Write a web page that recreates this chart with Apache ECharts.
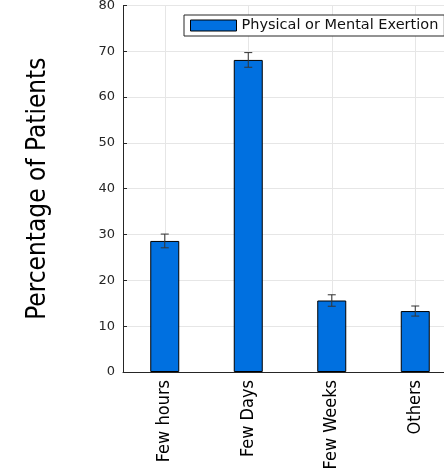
<!DOCTYPE html>
<html>
<head>
<meta charset="utf-8">
<title>Percentage of Patients</title>
<script src="https://cdn.jsdelivr.net/npm/echarts@6/dist/echarts.min.js"></script>
<style>
  html, body { margin: 0; padding: 0; background: #ffffff; }
  #chart { width: 444px; height: 470px; }
</style>
</head>
<body>
<div id="chart"></div>
<script>
// Duration categories and the share of patients in each
const categories = ['Few hours', 'Few Days', 'Few Weeks', 'Others'];
const seriesName = 'Physical or Mental Exertion';
const values = [28.6, 68.1, 15.6, 13.3];
// Half-width of the error bar for each category
const errors = [1.5, 1.6, 1.25, 1.1];
const yTicks = [0, 10, 20, 30, 40, 50, 60, 70, 80];

const chart = echarts.init(document.getElementById('chart'), null, { renderer: 'canvas' });

const axisColor = '#262626';
const gridColor = '#e6e6e6';
const narrowFont = "'DejaVu Sans Condensed', 'Liberation Sans Narrow', 'Roboto Condensed', sans-serif";

const option = {
  animation: false,
  backgroundColor: '#ffffff',
  // plot area runs a little past the right edge of the canvas
  grid: {
    left: 123, width: 334, top: 5.4, bottom: 98,
    containLabel: false, outerBoundsMode: 'none'
  },
  legend: {
    data: [seriesName],
    left: 184,
    top: 15,
    orient: 'horizontal',
    backgroundColor: '#ffffff',
    borderColor: axisColor,
    borderWidth: 1,
    borderRadius: 0,
    padding: [3, 6, 3, 6],
    itemWidth: 46,
    itemHeight: 11,
    itemGap: 5,
    icon: 'rect',
    itemStyle: { color: '#0070e0', borderColor: '#000000', borderWidth: 1 },
    textStyle: { fontFamily: 'DejaVu Sans', fontSize: 14.5, color: '#111111', lineHeight: 11 }
  },
  xAxis: {
    type: 'category',
    data: categories,
    boundaryGap: true,
    axisLine: { show: true, lineStyle: { color: axisColor, width: 1 } },
    axisTick: { show: true, inside: true, length: 4, alignWithLabel: true, lineStyle: { color: axisColor } },
    splitLine: { show: true, alignWithLabel: true, lineStyle: { color: gridColor, width: 1 } },
    axisLabel: {
      rotate: 90,
      margin: 8,
      fontFamily: narrowFont,
      fontSize: 18,
      color: '#000000'
    }
  },
  yAxis: {
    type: 'value',
    min: yTicks[0],
    max: yTicks[yTicks.length - 1],
    interval: yTicks[1] - yTicks[0],
    name: 'Percentage of Patients',
    nameLocation: 'middle',
    nameRotate: 90,
    nameGap: 72,
    nameTextStyle: { fontFamily: narrowFont, fontSize: 26, color: '#000000' },
    axisLine: { show: true, lineStyle: { color: axisColor, width: 1 } },
    axisTick: { show: true, inside: true, length: 4, lineStyle: { color: axisColor } },
    splitLine: { show: true, lineStyle: { color: gridColor, width: 1 } },
    axisLabel: {
      margin: 8,
      fontFamily: 'DejaVu Sans',
      fontSize: 13,
      color: axisColor
    }
  },
  series: [
    {
      name: seriesName,
      type: 'bar',
      data: values,
      barWidth: 29,
      itemStyle: { color: '#0070e0', borderColor: '#000000', borderWidth: 1 },
      z: 2
    },
    {
      name: 'error',
      type: 'custom',
      z: 3,
      data: values.map((v, i) => [i, v - errors[i], v + errors[i]]),
      renderItem: function (params, api) {
        const x = api.value(0);
        const low = api.coord([x, api.value(1)]);
        const high = api.coord([x, api.value(2)]);
        const cap = 4;
        const style = { stroke: '#333333', lineWidth: 1 };
        return {
          type: 'group',
          children: [
            { type: 'line', shape: { x1: high[0], y1: high[1], x2: low[0], y2: low[1] }, style: style },
            { type: 'line', shape: { x1: high[0] - cap, y1: high[1], x2: high[0] + cap, y2: high[1] }, style: style },
            { type: 'line', shape: { x1: low[0] - cap, y1: low[1], x2: low[0] + cap, y2: low[1] }, style: style }
          ]
        };
      }
    }
  ]
};

chart.setOption(option);
</script>
</body>
</html>
